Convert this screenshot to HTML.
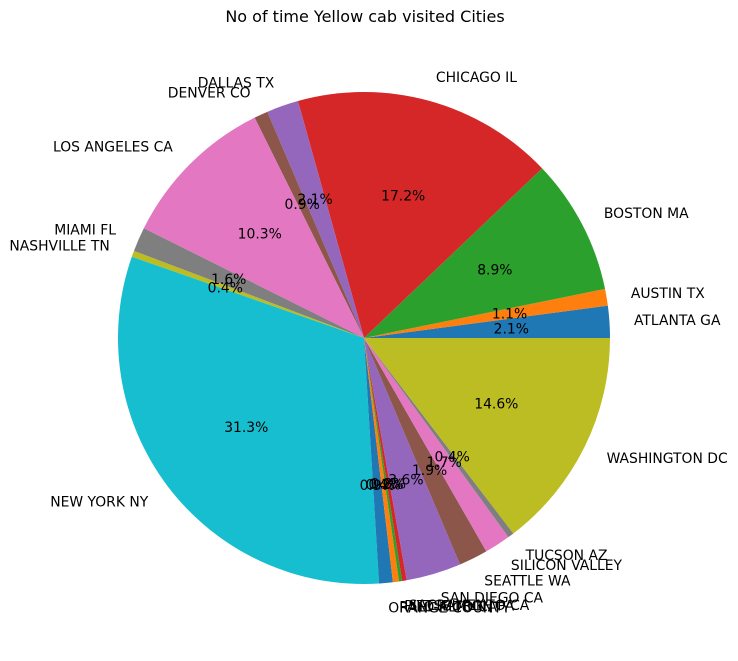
<!DOCTYPE html>
<html><head><meta charset="utf-8"><style>
body{margin:0;background:#fff;}
svg text{font-family:"DejaVu Sans","Liberation Sans",sans-serif;font-size:13.9px;fill:#000;}
</style></head><body>
<svg id="chart" width="738" height="656" viewBox="0 0 738 656">
<text x="365" y="22" text-anchor="middle" style="font-size:16px">No of time Yellow cab visited Cities</text>
</svg>
<script>
const categories = ["ATLANTA GA","AUSTIN TX","BOSTON MA","CHICAGO IL","DALLAS TX","DENVER CO","LOS ANGELES CA","MIAMI FL","NASHVILLE TN","NEW YORK NY","ORANGE COUNTY","PALO ALTO CA","PITTSBURGH PA","SACRAMENTO CA","SAN DIEGO CA","SEATTLE WA","SILICON VALLEY","TUCSON AZ","WASHINGTON DC"];
const values = [2.1,1.1,8.9,17.2,2.1,0.9,10.3,1.6,0.4,31.3,0.9,0.4,0.2,0.3,3.6,1.9,1.7,0.4,14.6];
const colors = ["#1f77b4","#ff7f0e","#2ca02c","#d62728","#9467bd","#8c564b","#e377c2","#7f7f7f","#bcbd22","#17becf"];
const svg = document.getElementById('chart');
const NS = "http://www.w3.org/2000/svg";
const cx = 364, cy = 338, R = 246;
const total = values.reduce((a,b)=>a+b,0);
function pt(deg, r){const a=deg*Math.PI/180;return [cx+r*Math.cos(a), cy-r*Math.sin(a)];}
let start = 0;
const labels = [];
values.forEach((v,i)=>{
  const sweep = v/total*360, end = start+sweep;
  const [x1,y1]=pt(start,R),[x2,y2]=pt(end,R);
  const p=document.createElementNS(NS,'path');
  p.setAttribute('d',`M${cx},${cy} L${x1},${y1} A${R},${R} 0 ${sweep>180?1:0} 0 ${x2},${y2} Z`);
  p.setAttribute('fill',colors[i%10]);
  
  
  svg.appendChild(p);
  labels.push([start+sweep/2,i,v]);
  start=end;
});
labels.forEach(([mid,i,v])=>{
  const [lx,ly]=pt(mid,R*1.1);
  const t=document.createElementNS(NS,'text');
  t.setAttribute('x',lx);t.setAttribute('y',ly+5);
  t.setAttribute('text-anchor',Math.cos(mid*Math.PI/180)>=0?'start':'end');
  t.textContent=categories[i];
  
  
  svg.appendChild(t);
});
labels.forEach(([mid,i,v])=>{
  const [px,py]=pt(mid,R*0.6);
  const t=document.createElementNS(NS,'text');
  t.setAttribute('x',px);t.setAttribute('y',py+5);
  t.setAttribute('text-anchor','middle');
  t.textContent=(v/total*100).toFixed(1)+'%';
  
  
  svg.appendChild(t);
});
</script>
</body></html>
